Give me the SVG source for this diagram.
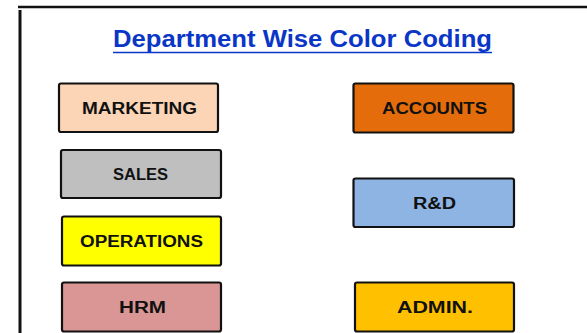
<svg xmlns="http://www.w3.org/2000/svg" width="587" height="333" viewBox="0 0 587 333">
<style>
.box{stroke:#111;stroke-width:2.2;}
.lbl{font-family:"Liberation Sans",Arial,sans-serif;font-weight:bold;font-size:16px;fill:#111;text-anchor:start;}
.title{font-family:"Liberation Sans",Arial,sans-serif;font-weight:bold;font-size:23px;fill:#0A36C8;}
</style>
<rect x="0" y="0" width="587" height="333" fill="#ffffff"/>
<g id="frame">
<line x1="18" y1="7" x2="587" y2="7" stroke="#111" stroke-width="2.5"/>
<line x1="20" y1="10" x2="20" y2="333" stroke="#111" stroke-width="3"/>
</g>
<g id="title">
<text class="title" x="113" y="47" textLength="379" lengthAdjust="spacingAndGlyphs">Department Wise Color Coding</text>
<line x1="113" y1="52.5" x2="492" y2="52.5" stroke="#0A36C8" stroke-width="1.6"/>
</g>
<g id="connectors"></g>
<g id="marketing">
<rect class="box" x="59" y="83.5" width="159" height="48.5" rx="2" fill="#FBD5B5"/>
<text class="lbl" x="82" y="114" textLength="115" lengthAdjust="spacingAndGlyphs">MARKETING</text>
</g>
<g id="sales">
<rect class="box" x="61" y="150" width="160" height="48" rx="2" fill="#BFBFBF"/>
<text class="lbl" x="113" y="180" textLength="55" lengthAdjust="spacingAndGlyphs">SALES</text>
</g>
<g id="operations">
<rect class="box" x="62" y="216.5" width="159" height="49" rx="2" fill="#FFFF00"/>
<text class="lbl" x="80" y="247" textLength="123" lengthAdjust="spacingAndGlyphs">OPERATIONS</text>
</g>
<g id="hrm">
<rect class="box" x="62" y="282.5" width="159" height="49" rx="2" fill="#D99694"/>
<text class="lbl" x="119" y="313" textLength="47" lengthAdjust="spacingAndGlyphs">HRM</text>
</g>
<g id="accounts">
<rect class="box" x="353.5" y="83.5" width="160" height="49" rx="2" fill="#E46C0A"/>
<text class="lbl" x="382" y="114" textLength="105" lengthAdjust="spacingAndGlyphs">ACCOUNTS</text>
</g>
<g id="rnd">
<rect class="box" x="353.5" y="178.5" width="160.5" height="48.5" rx="2" fill="#8EB4E3"/>
<text class="lbl" x="413" y="209" textLength="43" lengthAdjust="spacingAndGlyphs">R&amp;D</text>
</g>
<g id="admin">
<rect class="box" x="355" y="282.5" width="159" height="49" rx="2" fill="#FFC000"/>
<text class="lbl" x="397" y="313" textLength="76" lengthAdjust="spacingAndGlyphs">ADMIN.</text>
</g>
</svg>
